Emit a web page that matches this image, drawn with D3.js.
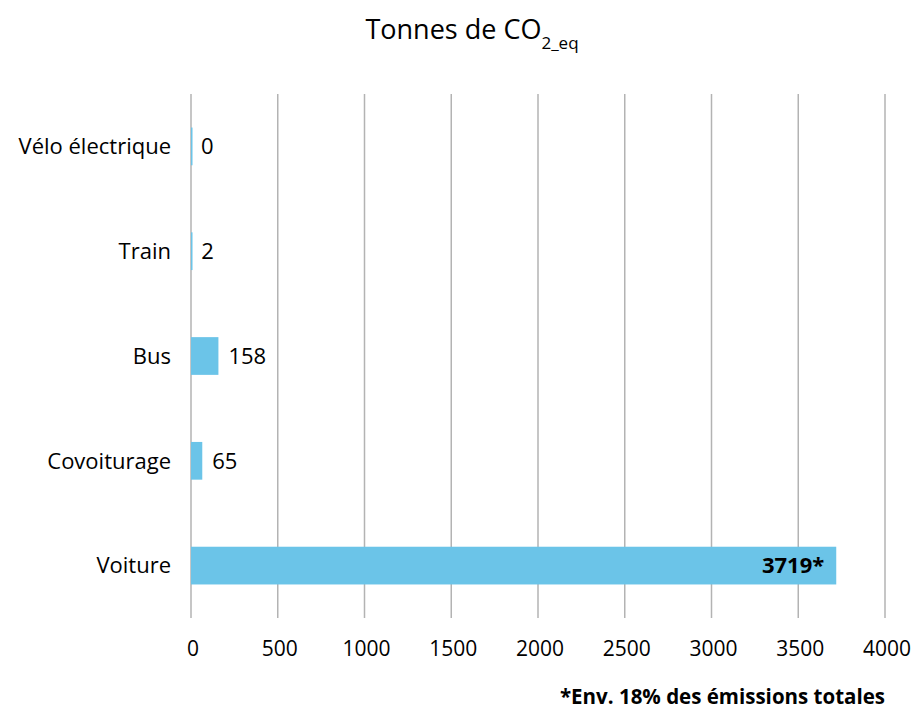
<!DOCTYPE html>
<html>
<head>
<meta charset="utf-8">
<script src="https://cdn.jsdelivr.net/npm/d3@7"></script>
<style>
  body { margin: 0; background: #fff; }
  text { font-family: "Open Sans", "Noto Sans", sans-serif; fill: #000; }
</style>
</head>
<body>
<div id="chart"></div>
<script>
const categories = ['Vélo électrique', 'Train', 'Bus', 'Covoiturage', 'Voiture']
const values = [0, 2, 158, 65, 3719]
const valueLabels = ['0', '2', '158', '65', '3719*']
const xTicks = [0, 500, 1000, 1500, 2000, 2500, 3000, 3500, 4000]
const note = '*Env. 18% des émissions totales'

const width = 913, height = 709
const margin = {top: 94, right: 28, bottom: 91, left: 191}

const svg = d3.select('#chart').append('svg')
  .attr('width', width).attr('height', height)

const x = d3.scaleLinear().domain([0, 4000])
  .range([margin.left, width - margin.right])
const y = d3.scaleBand().domain(categories)
  .range([margin.top, height - margin.bottom])
  .paddingInner(0.64).paddingOuter(0.32)

// title with subscript
const title = svg.append('text')
  .attr('x', 472).attr('y', 39)
  .attr('text-anchor', 'middle')
  .style('font-size', '27px')
title.append('tspan').text('Tonnes de CO')
title.append('tspan').text('2_eq')
  .attr('dy', 10).style('font-size', '17px')

// gridlines
svg.append('g').selectAll('line').data(xTicks).join('line')
  .attr('x1', d => x(d)).attr('x2', d => x(d))
  .attr('y1', margin.top).attr('y2', height - margin.bottom)
  .attr('stroke', '#b3b3b3').attr('stroke-width', 1.5)

// x tick labels
svg.append('g').selectAll('text').data(xTicks).join('text')
  .attr('x', d => x(d) + 2).attr('y', 656)
  .attr('text-anchor', 'middle')
  .style('font-size', '21px')
  .text(d => d)

// category labels
svg.append('g').selectAll('text').data(categories).join('text')
  .attr('x', 171).attr('y', d => y(d) + y.bandwidth() / 2)
  .attr('dy', '0.35em')
  .attr('text-anchor', 'end')
  .style('font-size', '22px')
  .text(d => d)

// bars
const rows = categories.map((c, i) => ({c, v: values[i], label: valueLabels[i]}))
svg.append('g').selectAll('rect').data(rows).join('rect')
  .attr('x', x(0))
  .attr('y', d => y(d.c))
  .attr('width', d => Math.max(x(d.v) - x(0), 1.5))
  .attr('height', y.bandwidth())
  .attr('fill', '#6bc4e8')

// value labels
svg.append('g').selectAll('text').data(rows).join('text')
  .attr('x', d => d.v > 1000 ? x(d.v) - 12 : x(d.v) + 10)
  .attr('y', d => y(d.c) + y.bandwidth() / 2)
  .attr('dy', '0.35em')
  .attr('text-anchor', d => d.v > 1000 ? 'end' : 'start')
  .style('font-size', '22px')
  .style('font-weight', d => d.v > 1000 ? 'bold' : 'normal')
  .text(d => d.label)

// footnote
svg.append('text')
  .attr('x', 885).attr('y', 704)
  .attr('text-anchor', 'end')
  .style('font-size', '20.5px').style('font-weight', 'bold')
  .text(note)
</script>
</body>
</html>
